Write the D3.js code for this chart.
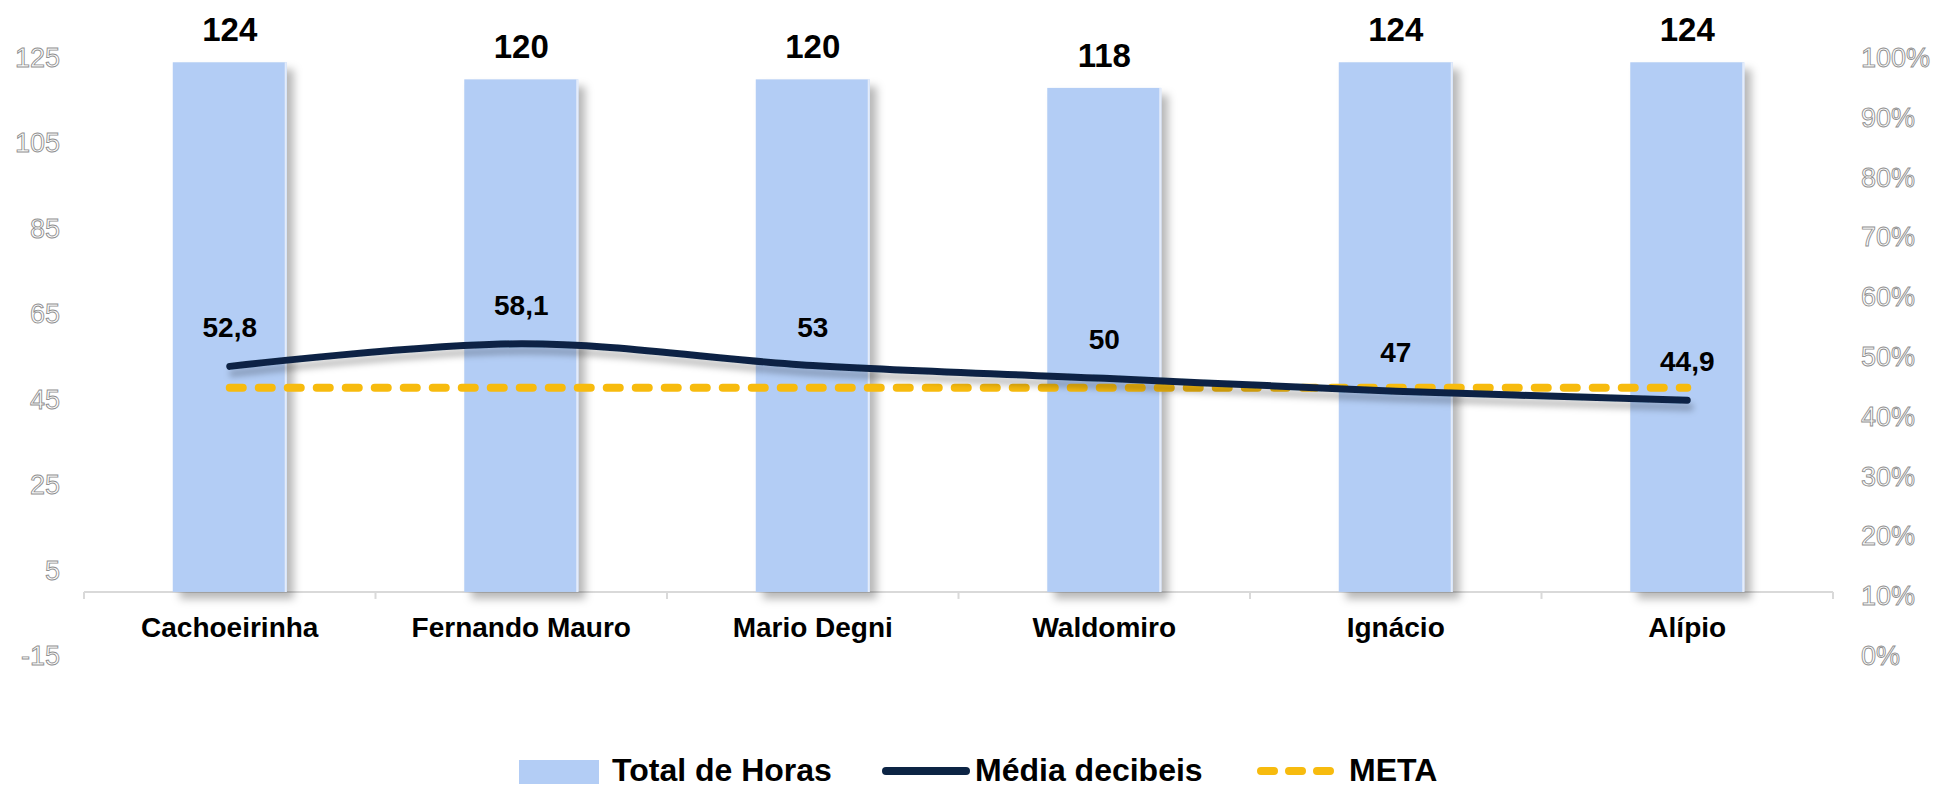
<!DOCTYPE html>
<html>
<head>
<meta charset="utf-8">
<script src="https://cdn.jsdelivr.net/npm/d3@7"></script>
<style>
  html, body { margin: 0; padding: 0; background: #ffffff; overflow: hidden; }
  svg { display: block; font-family: "Liberation Sans", Arial, sans-serif; }
</style>
</head>
<body>
<svg id="chart" width="1937" height="789"></svg>
<script>
// ---- data ----
const categories = ["Cachoeirinha", "Fernando Mauro", "Mario Degni", "Waldomiro", "Ignácio", "Alípio"];
const totalHoras = [124, 120, 120, 118, 124, 124];
const mediaDecibeis = [52.8, 58.1, 53, 50, 47, 44.9];
const mediaLabels = ["52,8", "58,1", "53", "50", "47", "44,9"];
const metaValues = [47.8, 47.8, 47.8, 47.8, 47.8, 47.8];
const leftTicks = [-15, 5, 25, 45, 65, 85, 105, 125];
const rightTicks = [0, 0.1, 0.2, 0.3, 0.4, 0.5, 0.6, 0.7, 0.8, 0.9, 1];
const legendNames = ["Total de Horas", "Média decibeis", "META"];

// ---- layout ----
const svg = d3.select("#chart");
const defs = svg.append("defs");
const sh = defs.append("filter").attr("id", "shadow")
  .attr("x", "-20%").attr("y", "-20%").attr("width", "150%").attr("height", "150%");
sh.append("feDropShadow").attr("dx", 7).attr("dy", 7).attr("stdDeviation", 4)
  .attr("flood-color", "#000").attr("flood-opacity", 0.28);
const shL = defs.append("filter").attr("id", "lshadow")
  .attr("x", "-5%").attr("y", "-50%").attr("width", "110%").attr("height", "300%");
shL.append("feDropShadow").attr("dx", 3).attr("dy", 7).attr("stdDeviation", 3)
  .attr("flood-color", "#000").attr("flood-opacity", 0.25);

const x = d3.scaleBand().domain(categories).range([84, 1833])
  .paddingInner(0.609).paddingOuter(0.3045);
const yL = d3.scaleLinear().domain([-15, 125]).range([656, 58]);
const yR = d3.scaleLinear().domain([0, 1]).range([656, 58]);
const cx = d => x(d) + x.bandwidth() / 2;

// axis labels (outlined text)
const outline = sel => sel.attr("fill", "#ffffff").attr("stroke", "#8f8f8f")
  .attr("stroke-width", 0.9).attr("font-size", 27).attr("dominant-baseline", "central");

svg.append("g").selectAll("text").data(leftTicks).join("text")
  .attr("x", 60).attr("y", d => yL(d)).attr("text-anchor", "end")
  .text(d => String(d)).call(outline);

svg.append("g").selectAll("text").data(rightTicks).join("text")
  .attr("x", 1861).attr("y", d => yR(d)).attr("text-anchor", "start")
  .text(d => Math.round(d * 100) + "%").call(outline);

// x axis
const axisY = yL(0);
const xAxis = svg.append("g");
xAxis.append("line").attr("x1", 84).attr("x2", 1833).attr("y1", axisY).attr("y2", axisY)
  .attr("stroke", "#d9d9d9").attr("stroke-width", 2);
const bounds = categories.map(c => x(c) - (x.step() - x.bandwidth()) / 2).concat([1833]);
xAxis.selectAll("line.tk").data(bounds).join("line").attr("class", "tk")
  .attr("x1", d => d).attr("x2", d => d).attr("y1", axisY).attr("y2", axisY + 7)
  .attr("stroke", "#d9d9d9").attr("stroke-width", 2);

// bars
svg.append("g").attr("filter", "url(#shadow)").selectAll("rect").data(categories).join("rect")
  .attr("x", d => x(d)).attr("width", x.bandwidth())
  .attr("y", (d, i) => yL(totalHoras[i]))
  .attr("height", (d, i) => yL(0) - yL(totalHoras[i]))
  .attr("fill", "#b3cdf5");
svg.append("g").selectAll("line").data(categories).join("line")
  .attr("x1", d => x(d) + x.bandwidth() - 1).attr("x2", d => x(d) + x.bandwidth() - 1)
  .attr("y1", (d, i) => yL(totalHoras[i])).attr("y2", yL(0))
  .attr("stroke", "#e4ecfa").attr("stroke-width", 2);

// category labels
svg.append("g").selectAll("text").data(categories).join("text")
  .attr("x", d => cx(d)).attr("y", 637).attr("text-anchor", "middle")
  .attr("font-size", 28).attr("font-weight", "bold").attr("fill", "#000")
  .text(d => d);

// META dashed line
const metaLine = d3.line().x((d, i) => cx(categories[i])).y(d => yL(d));
svg.append("path").datum(metaValues).attr("d", metaLine)
  .attr("fill", "none").attr("stroke", "#f7bb0e").attr("stroke-width", 8)
  .attr("stroke-linecap", "round").attr("stroke-dasharray", "13 16");

// Media line
const mLine = d3.line().x((d, i) => cx(categories[i])).y(d => yL(d))
  .curve(d3.curveCatmullRom.alpha(0.5));
svg.append("path").datum(mediaDecibeis).attr("d", mLine)
  .attr("fill", "none").attr("stroke", "#0c2444").attr("stroke-width", 7)
  .attr("stroke-linecap", "round").attr("filter", "url(#lshadow)");

// bar value labels
svg.append("g").selectAll("text").data(totalHoras).join("text")
  .attr("x", (d, i) => cx(categories[i])).attr("y", d => yL(d) - 21)
  .attr("text-anchor", "middle").attr("font-size", 33).attr("font-weight", "bold")
  .attr("fill", "#000").text(d => String(d));

// line value labels
svg.append("g").selectAll("text").data(mediaDecibeis).join("text")
  .attr("x", (d, i) => cx(categories[i])).attr("y", d => yL(d) - 29)
  .attr("text-anchor", "middle").attr("font-size", 28).attr("font-weight", "bold")
  .attr("fill", "#000").text((d, i) => mediaLabels[i]);

// legend
const lg = svg.append("g");
const lgY = 771;
lg.append("rect").attr("x", 519).attr("y", lgY - 11).attr("width", 80).attr("height", 24)
  .attr("fill", "#b3cdf5");
lg.append("line").attr("x1", 886).attr("x2", 966).attr("y1", lgY).attr("y2", lgY)
  .attr("stroke", "#0c2444").attr("stroke-width", 8).attr("stroke-linecap", "round");
lg.append("line").attr("x1", 1261).attr("x2", 1330).attr("y1", lgY).attr("y2", lgY)
  .attr("stroke", "#f7bb0e").attr("stroke-width", 8).attr("stroke-linecap", "round")
  .attr("stroke-dasharray", "13 15");
const lgX = [612, 975, 1349];
lg.selectAll("text").data(legendNames).join("text")
  .attr("x", (d, i) => lgX[i]).attr("y", 781)
  .attr("font-size", 32).attr("font-weight", "bold").attr("fill", "#000")
  .text(d => d);
</script>
</body>
</html>
